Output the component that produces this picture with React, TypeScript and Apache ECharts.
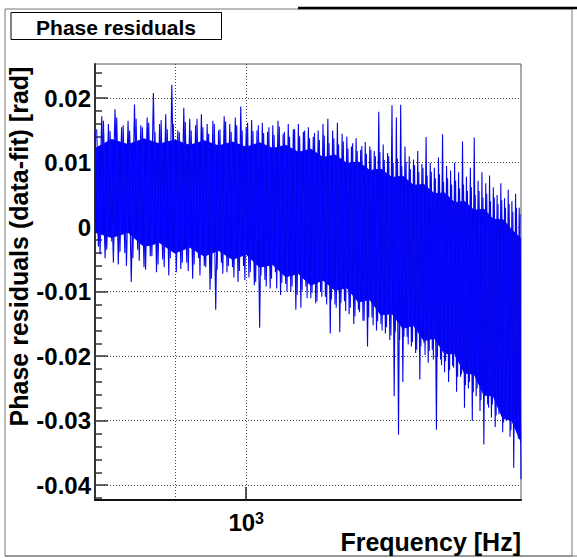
import React, { useEffect, useRef } from 'react';
import * as echarts from 'echarts';

const FONT = '"Liberation Sans", Arial, Helvetica, sans-serif';

// Axis ranges and ticks
const xMinHz = 800;
const xMaxHz = 1500;
const xMajorTicks = [1000];
const xMinorTicks = [900];
const yMin = -0.0423;
const yMax = 0.0253;
const yMajorTicks = [-0.04, -0.03, -0.02, -0.01, 0, 0.01, 0.02];
const yMinorTicks = [
  -0.042, -0.038, -0.036, -0.034, -0.032, -0.028, -0.026, -0.024, -0.022,
  -0.018, -0.016, -0.014, -0.012, -0.008, -0.006, -0.004, -0.002,
  0.002, 0.004, 0.006, 0.008, 0.012, 0.014, 0.016, 0.018, 0.022, 0.024,
];

// Dense core of the residual band
const bandFreq = [
  800, 820, 840, 860, 880, 900, 920, 940, 960, 980, 1000, 1020, 1040, 1060, 1080, 1100, 1120, 1140,
  1160, 1180, 1200, 1220, 1240, 1260, 1280, 1300, 1320, 1340, 1360, 1380, 1400, 1420, 1440, 1460, 1480, 1500,
];
const bandTop = [
  0.0122, 0.0136, 0.0128, 0.0137, 0.0129, 0.0135, 0.0127, 0.0134, 0.0126, 0.0132, 0.0124, 0.0131,
  0.0122, 0.0127, 0.0116, 0.0121, 0.0108, 0.0112, 0.0099, 0.0101, 0.0088, 0.009, 0.0077, 0.0079,
  0.0065, 0.0066, 0.0052, 0.0053, 0.0038, 0.004, 0.0026, 0.0028, 0.0012, 0.0012, -0.0004, -0.0018,
];
const bandBottom = [
  -0.0008, -0.0016, -0.0008, -0.003, -0.0024, -0.004, -0.0031, -0.0045, -0.0036, -0.005, -0.0042, -0.0062,
  -0.0058, -0.0077, -0.0072, -0.009, -0.0082, -0.0098, -0.0094, -0.0116, -0.0112, -0.0136, -0.0134, -0.0157,
  -0.0152, -0.0176, -0.0172, -0.0196, -0.0196, -0.0226, -0.0228, -0.026, -0.0262, -0.0296, -0.03, -0.0333,
];

// Residual samples, set A (long spikes): 800 Hz onwards in 4 Hz steps
const noiseAStartHz = 800;
const noiseStepHz = 4;
const noiseValsA = [
  0.0148, -0.003, 0.0172, -0.0048, 0.016, -0.0022, 0.0183, -0.0058, 0.0155, -0.004,
  0.0165, -0.0085, 0.019, -0.0035, 0.0158, -0.0062, 0.017, -0.0045, 0.0208, -0.007,
  0.016, -0.005, 0.0175, -0.0075, 0.0221, -0.004, 0.015, -0.0065, 0.0185, -0.0055,
  0.0168, -0.008, 0.0158, -0.0048, 0.0175, -0.006, 0.016, -0.0097, 0.0165, -0.0128,
  0.015, -0.0055, 0.0172, -0.007, 0.016, -0.0062, 0.017, -0.0085, 0.0187, -0.006,
  0.0155, -0.0078, 0.0166, -0.009, 0.015, -0.0156, 0.0162, -0.0082, 0.0148, -0.0095,
  0.0158, -0.007, 0.0165, -0.0105, 0.0145, -0.0088, 0.016, -0.01, 0.0152, -0.0128,
  0.016, -0.0125, 0.0148, -0.0092, 0.0155, -0.011, 0.014, -0.0118, 0.015, -0.01,
  0.016, -0.0108, 0.0168, -0.0165, 0.015, -0.012, 0.0162, -0.0163, 0.0145, -0.0115,
  0.014, -0.0135, 0.0125, -0.015, 0.0138, -0.0128, 0.012, -0.0145, 0.0132, -0.0185,
  0.0125, -0.014, 0.0118, -0.016, 0.0179, -0.015, 0.0128, -0.0165, 0.0115, -0.0175,
  0.0189, -0.0262, 0.017, -0.0322, 0.019, -0.024, 0.0125, -0.017, 0.011, -0.0185,
  0.0105, -0.0195, 0.0118, -0.0236, 0.0098, -0.018, 0.014, -0.021, 0.01, -0.019,
  0.0092, -0.0314, 0.0108, -0.0205, 0.0144, -0.0225, 0.0095, -0.024, 0.0088, -0.0215,
  0.01, -0.0255, 0.0085, -0.0232, 0.0133, -0.028, 0.0078, -0.025, 0.0092, -0.03,
  0.0139, -0.0262, 0.0072, -0.0285, 0.0085, -0.0337, 0.0068, -0.0275, 0.008, -0.0295,
  0.0062, -0.031, 0.005, -0.029, 0.0068, -0.0318, 0.0045, -0.03, 0.0058, -0.0325,
  0.004, -0.0373, 0.0052, -0.032, 0.003, -0.0391,
];

// Residual samples, set B (short spikes): 802 Hz onwards in 4 Hz steps
const noiseBStartHz = 802;
const noiseValsB = [
  0.0152, -0.0042, 0.0165, -0.0035, 0.0149, -0.0055, 0.017, -0.0038, 0.0158, -0.006,
  0.015, -0.0048, 0.0168, -0.0052, 0.0155, -0.0066, 0.0162, -0.0045, 0.0148, -0.0058,
  0.0166, -0.0062, 0.0152, -0.0048, 0.016, -0.007, 0.0147, -0.0055, 0.0163, -0.0068,
  0.015, -0.0058, 0.0168, -0.0075, 0.0155, -0.0062, 0.0145, -0.008, 0.016, -0.0066,
  0.0152, -0.0072, 0.0164, -0.006, 0.0148, -0.0078, 0.0158, -0.0068, 0.015, -0.0082,
  0.0162, -0.007, 0.0149, -0.0085, 0.0158, -0.0075, 0.0146, -0.0092, 0.0155, -0.008,
  0.0143, -0.0095, 0.0156, -0.0086, 0.0148, -0.01, 0.014, -0.0092, 0.0152, -0.0105,
  0.0141, -0.0098, 0.015, -0.011, 0.0138, -0.0102, 0.0146, -0.0115, 0.0135, -0.0108,
  0.0142, -0.012, 0.013, -0.0112, 0.0138, -0.0125, 0.0128, -0.0118, 0.0133, -0.013,
  0.0122, -0.0125, 0.013, -0.0138, 0.0118, -0.0132, 0.0126, -0.0145, 0.0114, -0.014,
  0.012, -0.0152, 0.011, -0.0146, 0.0116, -0.016, 0.0104, -0.0155, 0.011, -0.0168,
  0.01, -0.0162, 0.0106, -0.0175, 0.0095, -0.017, 0.0101, -0.0182, 0.009, -0.0178,
  0.0096, -0.019, 0.0086, -0.0185, 0.0092, -0.0198, 0.008, -0.0192, 0.0086, -0.0205,
  0.0076, -0.02, 0.0082, -0.0214, 0.007, -0.0208, 0.0076, -0.0222, 0.0066, -0.0218,
  0.0072, -0.0232, 0.006, -0.0228, 0.0066, -0.0245, 0.0056, -0.024, 0.0062, -0.0256,
  0.005, -0.025, 0.0056, -0.0268, 0.0046, -0.0262, 0.0052, -0.028, 0.004, -0.0275,
  0.0046, -0.0292, 0.0036, -0.0286, 0.0042, -0.0303, 0.003, -0.0298, 0.0036, -0.0315,
  0.0024, -0.031, 0.003, -0.0328, 0.002,
];

const titleText = 'Phase residuals';
const yTitle = 'Phase residuals (data-fit) [rad]';
const xTitle = 'Frequency [Hz]';

const gridLine = { color: '#444', type: [1, 2] as number[], width: 1 };

function buildOption() {
  const band = bandFreq.map((f, i) => [f, bandTop[i], bandBottom[i]]);
  const noiseA = noiseValsA.map((v, i) => [noiseAStartHz + i * noiseStepHz, v]);
  const noiseB = noiseValsB.map((v, i) => [noiseBStartHz + i * noiseStepHz, v]);

  const renderBand = (params: any, api: any) => {
    if (params.dataIndex !== 0) return null;
    const pts: number[][] = [];
    for (let i = 0; i < bandFreq.length; i++) pts.push(api.coord([bandFreq[i], bandTop[i]]));
    for (let i = bandFreq.length - 1; i >= 0; i--) pts.push(api.coord([bandFreq[i], bandBottom[i]]));
    return {
      type: 'polygon',
      shape: { points: pts },
      style: { fill: '#0000ff', stroke: '#0000ff', lineWidth: 1 },
    };
  };

  const spikeSeries = (name: string, data: number[][], color: string, z: number) => ({
    name,
    type: 'line',
    xAxisIndex: 0,
    yAxisIndex: 0,
    data,
    symbol: 'none',
    lineStyle: { width: 1.1, color },
    silent: true,
    z,
  });

  return {
    animation: false,
    backgroundColor: '#ffffff',
    grid: {
      left: 95,
      top: 64,
      width: 426,
      height: 436,
      show: true,
      borderColor: '#555',
      borderWidth: 1,
      backgroundColor: 'transparent',
      containLabel: false,
      outerBoundsMode: 'none',
    },
    xAxis: [
      {
        type: 'log',
        logBase: 10,
        min: xMinHz,
        max: xMaxHz,
        position: 'bottom',
        axisLine: { show: true, onZero: false, lineStyle: { color: '#111', width: 2 } },
        axisTick: { show: true, inside: true, length: 13, customValues: xMajorTicks, lineStyle: { color: '#222', width: 1.5 } },
        axisLabel: {
          show: true,
          customValues: xMajorTicks,
          margin: 10,
          formatter: (v: number) => '{b|10}{s|' + Math.round(Math.log10(v)) + '}',
          rich: {
            b: { fontFamily: FONT, fontWeight: 'bold', fontSize: 24, color: '#000' },
            s: { fontFamily: FONT, fontWeight: 'bold', fontSize: 16, color: '#000', verticalAlign: 'top' },
          },
        },
        splitLine: { show: true, lineStyle: gridLine },
        minorTick: { show: false },
      },
      {
        type: 'log',
        logBase: 10,
        min: xMinHz,
        max: xMaxHz,
        position: 'bottom',
        axisLine: { show: false },
        axisTick: { show: true, inside: true, length: 5, customValues: xMinorTicks, lineStyle: { color: '#222', width: 1.5 } },
        axisLabel: { show: false, customValues: xMinorTicks },
        splitLine: { show: true, lineStyle: gridLine },
      },
    ],
    yAxis: [
      {
        type: 'value',
        min: yMin,
        max: yMax,
        position: 'left',
        axisLine: { show: true, onZero: false, lineStyle: { color: '#333', width: 2 } },
        axisTick: { show: true, inside: true, length: 13, customValues: yMajorTicks, lineStyle: { color: '#333', width: 1.5 } },
        axisLabel: {
          show: true,
          customValues: yMajorTicks,
          margin: 4,
          padding: [6, 0, 0, 0],
          fontFamily: FONT,
          fontWeight: 'bold',
          fontSize: 24,
          color: '#000',
          formatter: (v: number) => String(Math.round(v * 100) / 100),
        },
        splitLine: { show: true, lineStyle: gridLine },
      },
      {
        type: 'value',
        min: yMin,
        max: yMax,
        position: 'left',
        axisLine: { show: false },
        axisTick: { show: true, inside: true, length: 7, customValues: yMinorTicks, lineStyle: { color: '#333', width: 1.5 } },
        axisLabel: { show: false, customValues: yMinorTicks },
        splitLine: { show: false },
      },
    ],
    series: [
      {
        name: 'band',
        type: 'custom',
        xAxisIndex: 0,
        yAxisIndex: 0,
        data: band,
        encode: { x: 0, y: [1, 2] },
        renderItem: renderBand,
        clip: true,
        silent: true,
        z: 2,
      },
      spikeSeries('residuals-b', noiseB, '#0a0aff', 3),
      spikeSeries('residuals-a', noiseA, '#0505e8', 4),
    ],
    graphic: [
      { type: 'rect', shape: { x: 5, y: 9, width: 567, height: 547 }, style: { fill: 'none', stroke: '#777', lineWidth: 1 }, silent: true },
      { type: 'line', shape: { x1: 298, y1: 8, x2: 577, y2: 8 }, style: { stroke: '#000', lineWidth: 2.5 }, silent: true },
      { type: 'line', shape: { x1: 5, y1: 556, x2: 577, y2: 556 }, style: { stroke: '#777', lineWidth: 1 }, silent: true },
      { type: 'rect', shape: { x: 11, y: 12.5, width: 210.5, height: 27 }, style: { fill: '#fff', stroke: '#000', lineWidth: 1 }, silent: true },
      {
        type: 'text',
        x: 116,
        y: 27.5,
        style: { text: titleText, font: 'bold 21px ' + FONT, fill: '#000', textAlign: 'center', textVerticalAlign: 'middle' },
        silent: true,
      },
      {
        type: 'text',
        x: 18.5,
        y: 246.5,
        rotation: Math.PI / 2,
        style: { text: yTitle, font: 'bold 25px ' + FONT, fill: '#000', textAlign: 'center', textVerticalAlign: 'middle' },
        silent: true,
      },
      {
        type: 'text',
        x: 521,
        y: 542,
        style: { text: xTitle, font: 'bold 25px ' + FONT, fill: '#000', textAlign: 'right', textVerticalAlign: 'middle' },
        silent: true,
      },
    ],
  };
}

export default function App() {
  const ref = useRef<HTMLDivElement>(null);
  useEffect(() => {
    document.body.style.margin = '0';
    const chart = echarts.init(ref.current as HTMLDivElement, null, { renderer: 'svg' });
    chart.setOption(buildOption() as any);
    return () => chart.dispose();
  }, []);
  return (
    <div
      ref={ref}
      style={{ position: 'absolute', left: 0, top: 0, width: 577, height: 558, background: '#fff' }}
    />
  );
}
